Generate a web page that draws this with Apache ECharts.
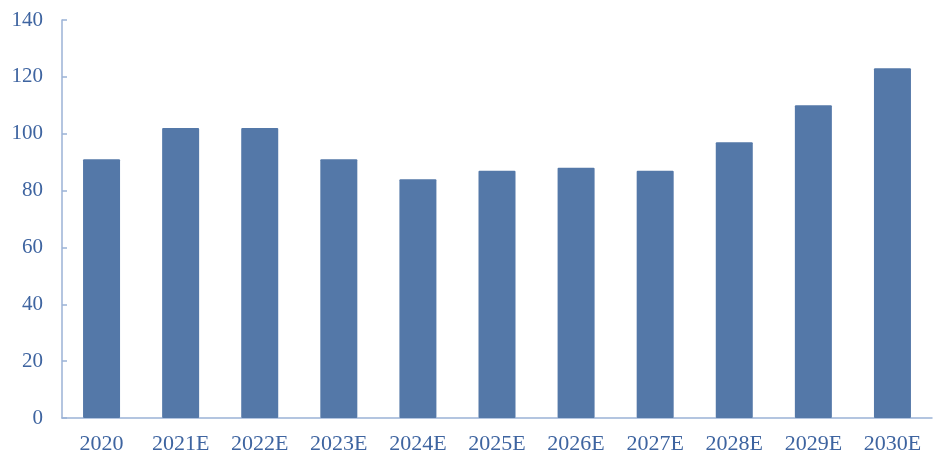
<!DOCTYPE html>
<html>
<head>
<meta charset="utf-8">
<script src="https://cdn.jsdelivr.net/npm/echarts@6/dist/echarts.min.js"></script>
<style>html,body{margin:0;padding:0;background:#fff;}#c{width:942px;height:466px;}</style>
</head>
<body>
<div id="c"></div>
<script>
const categories = ['2020','2021E','2022E','2023E','2024E','2025E','2026E','2027E','2028E','2029E','2030E'];
const values = [91, 102, 102, 91, 84, 87, 88, 87, 97, 110, 123];

const textColor = '#3e64a0';
const axisColor = '#9bb2d6';
const chart = echarts.init(document.getElementById('c'), null, {renderer: 'canvas'});
chart.setOption({
  animation: false,
  backgroundColor: '#fff',
  grid: {left: 62, right: 10, top: 20, bottom: 48, containLabel: false},
  xAxis: {
    type: 'category',
    data: categories,
    axisLine: {lineStyle: {color: axisColor, width: 1.5}},
    axisTick: {inside: true, length: 5, lineStyle: {color: axisColor, width: 1.5}},
    axisLabel: {color: textColor, fontFamily: 'Liberation Serif', fontSize: 22, margin: 15}
  },
  yAxis: {
    type: 'value',
    min: 0, max: 140, interval: 20,
    splitLine: {show: false},
    axisLine: {show: true, lineStyle: {color: axisColor, width: 1.5}},
    axisTick: {show: true, inside: true, length: 5, lineStyle: {color: axisColor, width: 1.5}},
    axisLabel: {color: textColor, fontFamily: 'Liberation Serif', fontSize: 21, margin: 19}
  },
  series: [{
    type: 'bar',
    data: values,
    barWidth: 37,
    itemStyle: {color: '#5478a8', borderRadius: 1}
  }]
});
</script>
</body>
</html>
